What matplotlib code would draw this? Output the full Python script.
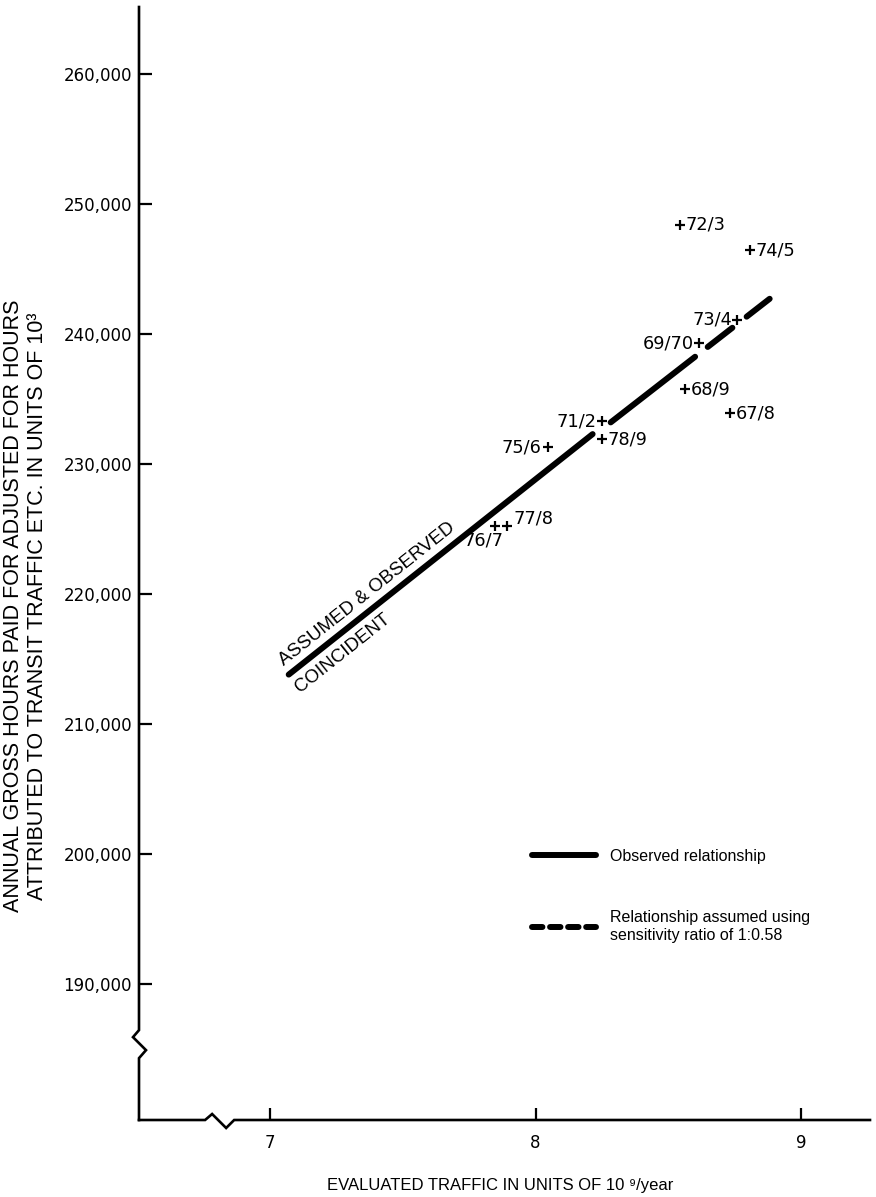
import matplotlib
matplotlib.use("Agg")
import matplotlib.pyplot as plt
from matplotlib.lines import Line2D

plt.rcParams['font.family'] = ['DejaVu Sans']
plt.rcParams['lines.scale_dashes'] = False

# Observed relationship (solid) and the relationship assumed from the sensitivity ratio (dashed)
observed_traffic = [7.07, 8.215]
observed_hours = [213800, 232300]
assumed_traffic = [8.283, 8.894]
assumed_hours = [233200, 242900]

# Yearly observations
years = ["72/3", "74/5", "73/4", "69/70", "68/9", "67/8", "71/2", "78/9", "75/6", "77/8", "76/7"]
year_traffic = [8.543, 8.808, 8.758, 8.615, 8.562, 8.732, 8.249, 8.249, 8.045, 7.894, 7.849]
year_hours = [248400, 246450, 241100, 239300, 235750, 233900, 233300, 231900, 231300, 225250, 225250]

x_ticks = [7, 8, 9]
y_ticks = [190000, 200000, 210000, 220000, 230000, 240000, 250000, 260000]
y_tick_labels = ["190,000", "200,000", "210,000", "220,000", "230,000", "240,000", "250,000", "260,000"]

XLIM = (6.506, 9.26)
YLIM = (179538, 265154)
PX_X = 1 / 265.0      # data units per pixel, horizontal
PX_Y = 1000 / 13.0    # data units per pixel, vertical

fig = plt.figure(figsize=(8.76, 11.97), dpi=100)
ax = fig.add_axes([139 / 876, 1 - 1120 / 1197, 731 / 876, 1113 / 1197])
ax.set_xlim(*XLIM)
ax.set_ylim(*YLIM)
for s in ax.spines.values():
    s.set_visible(False)

# axis lines with break marks
ax_lw = 1.9
x0, y0 = XLIM[0], YLIM[0]
yb = 186450
y_axis_x = [x0, x0, x0 - 6 * PX_X, x0 + 7 * PX_X, x0, x0]
y_axis_y = [YLIM[1], yb, yb - 7 * PX_Y, yb - 20 * PX_Y, yb - 28 * PX_Y, y0]
ax.plot(y_axis_x, y_axis_y, color='black', lw=ax_lw, clip_on=False, solid_joinstyle='miter')
xb = x0 + 66 * PX_X
x_axis_x = [x0, xb, xb + 7 * PX_X, xb + 21 * PX_X, xb + 29 * PX_X, XLIM[1]]
x_axis_y = [y0, y0, y0 + 6 * PX_Y, y0 - 8 * PX_Y, y0, y0]
ax.plot(x_axis_x, x_axis_y, color='black', lw=ax_lw, clip_on=False, solid_joinstyle='miter')

ax.set_xticks(x_ticks)
ax.set_xticklabels([str(t) for t in x_ticks])
ax.set_yticks(y_ticks)
ax.set_yticklabels(y_tick_labels)
ax.tick_params(direction='in', length=9, width=1.6, labelsize=12, colors='black')
ax.tick_params(axis='x', pad=10)
ax.tick_params(axis='y', pad=5)

# relationships
line_lw = 4.3
ax.plot(observed_traffic, observed_hours, color='black', lw=line_lw,
        solid_capstyle='round', zorder=3)
assumed_line, = ax.plot(assumed_traffic, assumed_hours, color='black', lw=line_lw,
                        dash_capstyle='round', zorder=3)
assumed_line.set_dashes([77, 11.5, 22.5, 13, 21, 40])

# yearly points
ax.plot(year_traffic, year_hours, linestyle='none', marker='+', markersize=6.5,
        markeredgewidth=1.6, color='black', zorder=4)

placement = {
    "72/3": ('left', 4.3, 0), "74/5": ('left', 4.3, 0), "73/4": ('right', -3.6, 0),
    "69/70": ('right', -3.6, 0), "68/9": ('left', 4.3, 0), "67/8": ('left', 4.3, 0),
    "71/2": ('right', -3.6, 0), "78/9": ('left', 4.3, 0), "75/6": ('right', -4.3, 0),
    "77/8": ('left', 4.3, 5.5), "76/7": ('center', -8.6, -10.5),
}
for lab, tx, hy in zip(years, year_traffic, year_hours):
    ha, dx, dy = placement[lab]
    ax.annotate(lab, (tx, hy), xytext=(dx, dy), textcoords='offset points',
                ha=ha, va='center', fontsize=12.8)

# annotation along the line
ax.text(7.366, 220000, "ASSUMED & OBSERVED", rotation=38.5, rotation_mode='anchor',
        ha='center', va='center', fontsize=13.5, family='Liberation Sans')
ax.text(7.275, 215460, "COINCIDENT", rotation=38.5, rotation_mode='anchor',
        ha='center', va='center', fontsize=13.5, family='Liberation Sans')

# legend
h_obs = Line2D([], [], color='black', lw=line_lw, solid_capstyle='round')
h_ass = Line2D([], [], color='black', lw=line_lw, dash_capstyle='round', dashes=[7.5, 5.5])
leg = ax.legend([h_obs, h_ass],
                ["Observed relationship", "Relationship assumed using\nsensitivity ratio of 1:0.58"],
                loc='upper left', bbox_to_anchor=(0.5376, 0.2435), frameon=False,
                borderpad=0, borderaxespad=0, handlelength=4.0, handletextpad=0.9,
                labelspacing=2.9, prop={'family': 'Liberation Sans', 'size': 11.5})

ax.set_xlabel("EVALUATED TRAFFIC IN UNITS OF 10 \u2079/year", fontsize=12,
              family='Liberation Sans')
ax.xaxis.set_label_coords(0.4938, -0.0525)
ax.set_ylabel("ANNUAL GROSS HOURS PAID FOR ADJUSTED FOR HOURS\n"
              "ATTRIBUTED TO TRANSIT TRAFFIC ETC. IN UNITS OF 10\u00b3",
              fontsize=15.5, family='Liberation Sans', linespacing=1.18, va='center')
ax.yaxis.set_label_coords(-0.1553, 0.4618)

fig.savefig("out.png", dpi=100)
